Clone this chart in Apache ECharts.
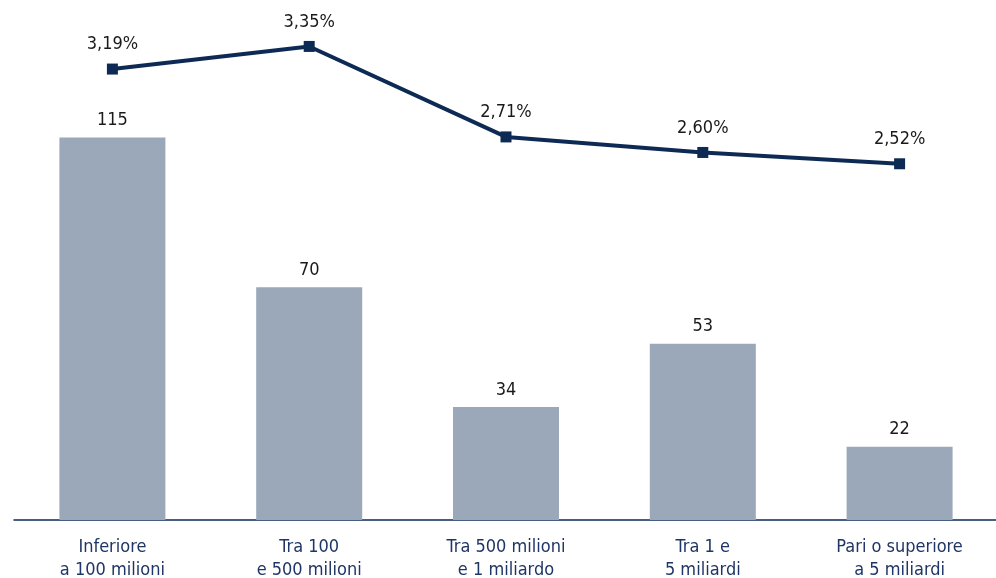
<!DOCTYPE html>
<html><head><meta charset="utf-8">
<script src="https://cdn.jsdelivr.net/npm/echarts@6/dist/echarts.min.js"></script>
<style>html,body{margin:0;padding:0;background:#fff}#c{width:996px;height:578px}</style>
</head><body><div id="c"></div>
<script>
const categories = ["Inferiore\na 100 milioni", "Tra 100\ne 500 milioni", "Tra 500 milioni\ne 1 miliardo", "Tra 1 e\n5 miliardi", "Pari o superiore\na 5 miliardi"];
const barValues = [115, 70, 34, 53, 22];
const lineValues = [3.19, 3.35, 2.71, 2.60, 2.52];

const FONT = '"DejaVu Sans", sans-serif';
const STYLE = 'condensed';
const chart = echarts.init(document.getElementById('c'));
chart.setOption({
  animation: false,
  grid: { left: 14, width: 984, top: 21, bottom: 58, outerBoundsMode: 'none', containLabel: false },
  xAxis: {
    type: 'category', data: categories,
    axisLine: { lineStyle: { color: '#0d2a55', width: 1.5 } },
    axisTick: { show: false },
    axisLabel: { margin: 16, fontFamily: FONT, fontStyle: STYLE, fontSize: 18, color: '#1f3566', lineHeight: 23 }
  },
  yAxis: [
    { type: 'value', min: 0, max: 150, show: false, splitLine: { show: false } },
    { type: 'value', min: 0, max: 3.53, show: false, splitLine: { show: false } }
  ],
  series: [
    { type: 'bar', data: barValues, barWidth: 106, yAxisIndex: 0,
      itemStyle: { color: '#9aa8ba' },
      label: { show: true, position: 'top', distance: 8, fontFamily: FONT, fontStyle: STYLE, fontSize: 18, color: '#1a1a1a' } },
    { type: 'line', data: lineValues, yAxisIndex: 1,
      lineStyle: { color: '#0d2a55', width: 4 },
      itemStyle: { color: '#0d2a55' },
      symbol: 'rect', symbolSize: 11,
      label: { show: true, position: 'top', distance: 10, fontFamily: FONT, fontStyle: STYLE, fontSize: 18, color: '#1a1a1a',
        formatter: p => p.value.toFixed(2).replace('.', ',') + '%' } }
  ]
});
</script></body></html>
